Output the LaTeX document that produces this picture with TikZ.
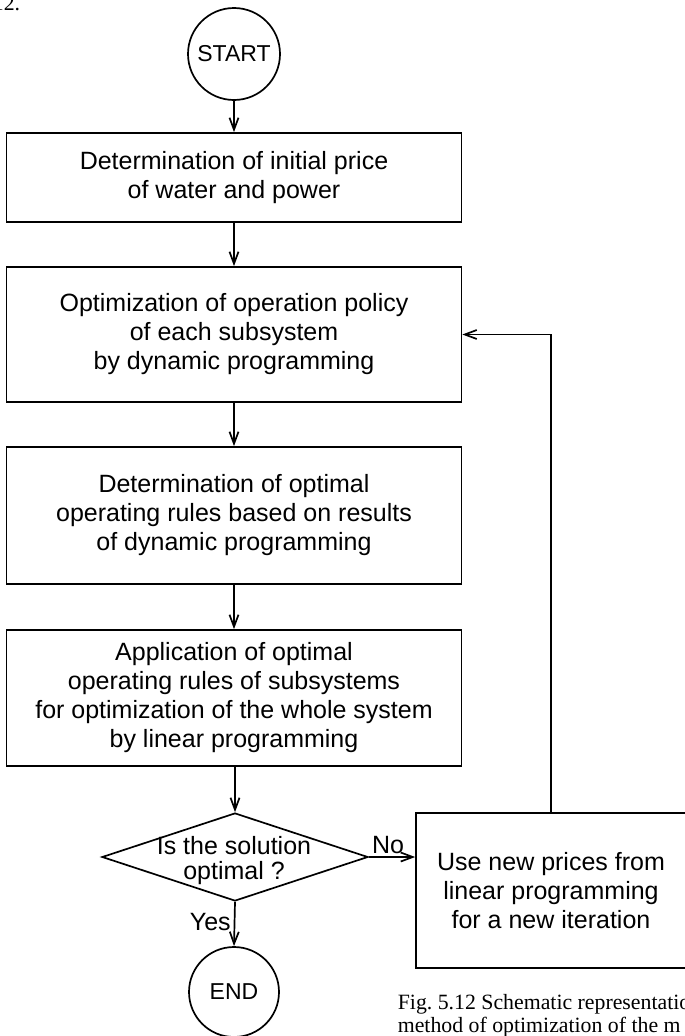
\documentclass[tikz,border=0pt]{standalone}
\usepackage{fontspec}
\setmainfont{Liberation Serif}
\newfontfamily\lett{Liberation Sans}
\usetikzlibrary{arrows.meta,shapes.geometric}
\begin{document}
\begin{tikzpicture}[x=1pt,y=-1pt,
  line width=1.7pt,
  lettering/.style={font=\lett\fontsize{25}{29}\selectfont},
  stepbox/.style={draw,rectangle,lettering,align=center,inner sep=0pt,minimum width=455pt},
  termin/.style={draw,circle,inner sep=0pt,font=\lett\fontsize{23}{26}\selectfont},
  arr/.style={-{Straight Barb[length=12pt,width=9pt]}},
  capt/.style={font=\fontsize{21.8}{23}\selectfont,anchor=base west,inner sep=0pt}
]
\useasboundingbox (0,0) rectangle (685,1036);
\clip (0,0) rectangle (685,1036);

\node[capt] (fignum) at (-8,10.5) {12.};

\node[termin,minimum size=92pt] (start) at (234,54) {START};
\node[stepbox,minimum height=89pt] (b1) at (234,177.5)
  {Determination of initial price\\of water and power};
\node[stepbox,minimum height=135pt] (b2) at (234,334.5)
  {Optimization of operation policy\\of each subsystem\\by dynamic programming};
\node[stepbox,minimum height=137pt] (b3) at (234,515.5)
  {Determination of optimal\\operating rules based on results\\of dynamic programming};
\node[stepbox,minimum height=136pt] (b4) at (234,698)
  {Application of optimal\\operating rules of subsystems\\for optimization of the whole system\\by linear programming};
\node[draw,diamond,inner sep=0pt,minimum width=266pt,minimum height=88pt] (q) at (235,857) {};
\node[lettering,align=center,font=\lett\fontsize{25}{25}\selectfont] (qtext) at (234,861)
  {Is the solution\\optimal ?};
\node[stepbox,minimum width=270pt,minimum height=155pt] (b5) at (551,890.5)
  {Use new prices from\\linear programming\\for a new iteration};
\node[termin,minimum size=90pt] (end) at (234,992) {END};

\draw[arr] (start) -- (b1);
\draw[arr] (b1) -- (b2);
\draw[arr] (b2) -- (b3);
\draw[arr] (b3) -- (b4);
\draw[arr] (b4.south -| q.north) -- (q.north);
\draw[arr] (q.south) -- node[lettering,left,inner sep=3pt,yshift=2pt] (yes) {Yes} (end.north);
\draw[arr] (q.east) -- node[lettering,above,inner sep=2pt,xshift=-4pt] (no) {No} (q.east -| b5.west);
\draw[arr] (b5.north) |- (b2.east);

\node[capt] (cap1) at (397,1009) {Fig.\ 5.12 Schematic representation};
\node[capt] (cap2) at (397,1032) {method of optimization of the m};
\end{tikzpicture}
\end{document}
